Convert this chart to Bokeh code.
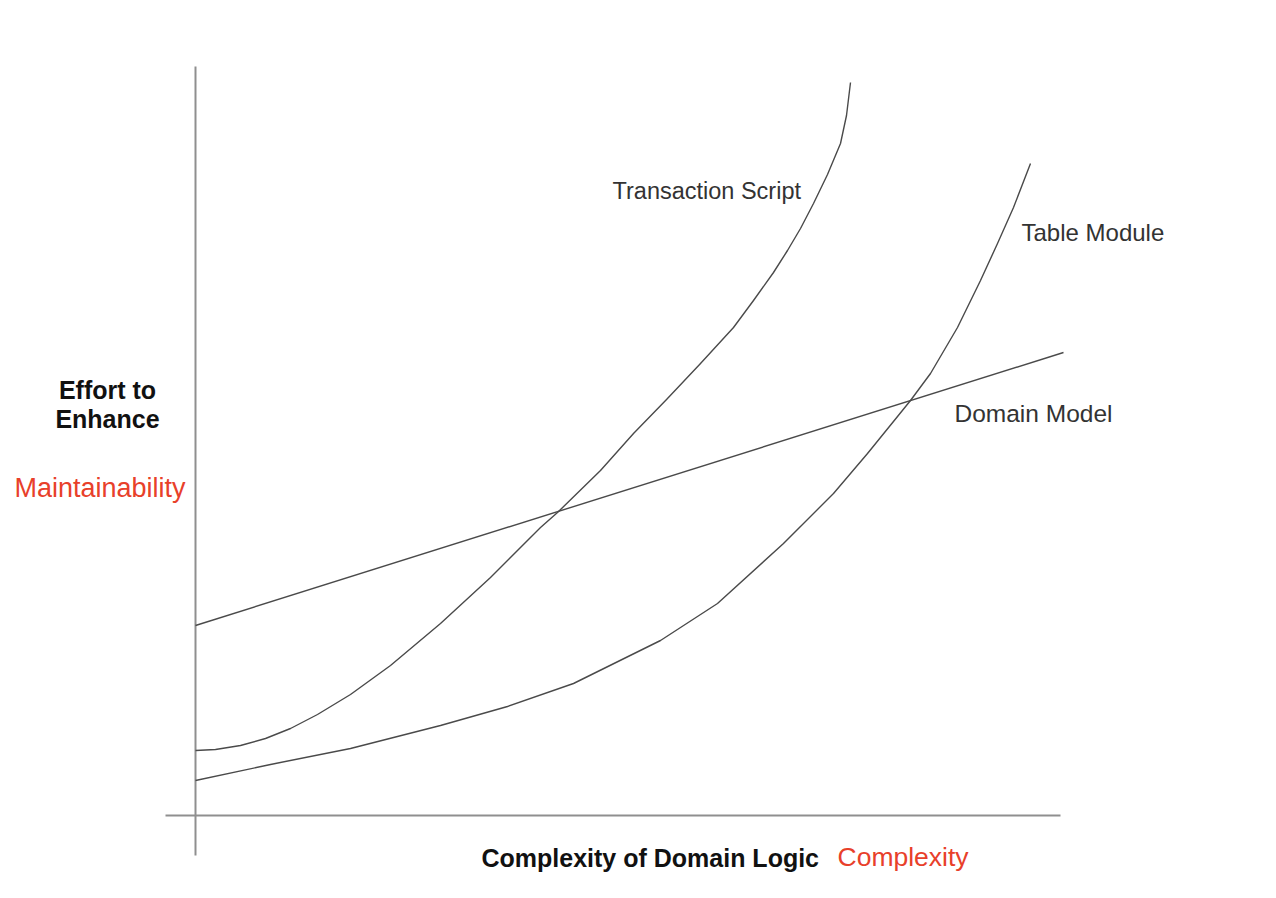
from bokeh.plotting import figure
from bokeh.models import Range1d, Label
from bokeh.embed import file_html
from bokeh.resources import INLINE

# Complexity (x) vs effort to enhance (y), schematic units, origin at the axis crossing
ts_x = [0, 20, 45, 70, 95, 122, 155, 195, 245, 295, 345, 362, 405, 438, 472, 505, 538, 558, 578, 592, 605, 618, 632, 645, 651, 655]
ts_y = [65, 66, 70, 77, 87, 101, 121, 150, 192, 238, 288, 303, 345, 382, 417, 452, 488, 515, 543, 565, 587, 612, 641, 672, 700, 733]

tm_x = [0, 75, 155, 245, 312, 378, 465, 522, 588, 638, 672, 715, 735, 762, 785, 802, 818, 835]
tm_y = [35, 51, 67, 90, 109, 132, 175, 212, 272, 322, 362, 415, 442, 488, 535, 572, 608, 652]

dm_x = [0, 868]
dm_y = [190, 463]

series_names = ["Transaction Script", "Table Module", "Domain Model"]

p = figure(width=1276, height=898, output_backend="svg", toolbar_location=None,
           x_range=Range1d(-195, 1081), y_range=Range1d(-83, 815), min_border=0)
p.axis.visible = False
p.grid.visible = False
p.outline_line_color = None
p.background_fill_color = "white"
p.border_fill_color = "white"

# axes drawn as plain lines
axis_col = "#8f8f8f"
p.segment(x0=[0], y0=[-40], x1=[0], y1=[749], line_color=axis_col, line_width=2)
p.segment(x0=[-30], y0=[0], x1=[865], y1=[0], line_color=axis_col, line_width=2)

curve_col = "#4a4a4a"
for xs, ys in ((ts_x, ts_y), (tm_x, tm_y), (dm_x, dm_y)):
    p.line(xs, ys, line_color=curve_col, line_width=1.4, line_join="round")

def lab(px, py, text, size, color="#222222", style="normal", align="left"):
    p.add_layout(Label(x=px - 195, y=815 - py, text=text, text_font="Liberation Sans",
                       text_font_size=f"{size}px", text_color=color, text_font_style=style,
                       text_align=align, text_baseline="middle"))

lab(612, 190, series_names[0], 23.5, color="#333333")
lab(1021, 232, series_names[1], 24, color="#333333")
lab(954, 413, series_names[2], 24.5, color="#333333")

lab(107, 389, "Effort to", 25, style="bold", align="center", color="#111111")
lab(107, 418, "Enhance", 25, style="bold", align="center", color="#111111")
lab(14, 487, "Maintainability", 27, color="#e8402a")

lab(481, 857, "Complexity of Domain Logic", 25, style="bold", color="#111111")
lab(837, 856, "Complexity", 26.5, color="#e8402a")

open("out.html", "w").write(file_html(p, INLINE))
